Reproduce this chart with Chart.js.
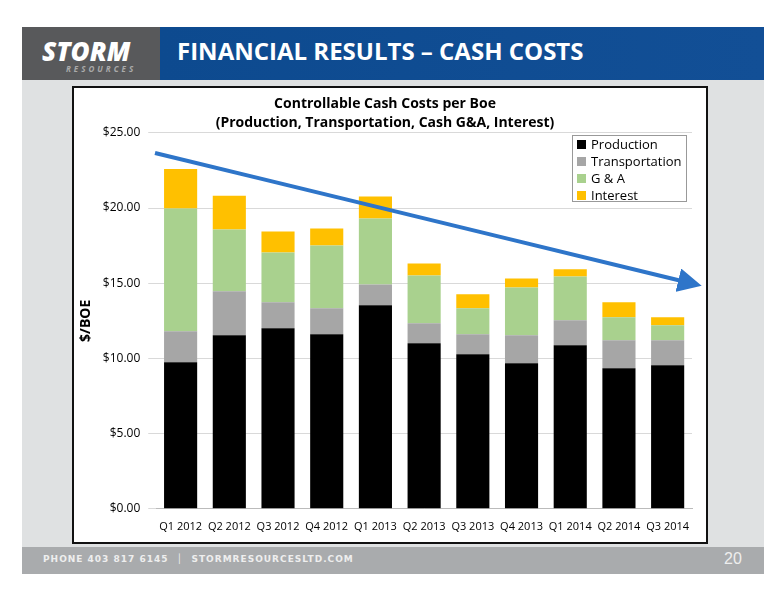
<!DOCTYPE html><html><head><meta charset="utf-8">
<script src="https://cdn.jsdelivr.net/npm/chart.js@4"></script>
<style>
body{margin:0;width:776px;height:600px;background:#fff;position:relative;font-family:"Open Sans",sans-serif;overflow:hidden}
#page{position:absolute;left:22px;top:27px;width:742px;height:547px;background:#dfe1e2}
#hl{position:absolute;left:22px;top:27px;width:140px;height:53px;background:#58595b}
#hr{position:absolute;left:160px;top:27px;width:604px;height:53px;background:linear-gradient(90deg,#0d4a8f,#124f96)}
#logo{position:absolute;left:42px;top:33px;color:#fff;font:italic 900 26px "Open Sans";letter-spacing:0px}
#logo2{position:absolute;left:66px;top:63px;color:#aaa;font:italic bold 8px "Open Sans";letter-spacing:3px}
#ttl{position:absolute;left:177px;top:34px;color:#fff;font:bold 24px "Open Sans"}
#ft{position:absolute;left:22px;top:547px;width:742px;height:27px;background:#a9abad}
#ftt{position:absolute;left:43px;top:554px;color:#eee;font:bold 9px "DejaVu Sans";letter-spacing:1px}
#pg{position:absolute;left:724px;top:550px;color:#eee;font:16px "Liberation Sans"}
#box{position:absolute;left:72px;top:86px;width:632px;height:454px;background:#fff;border:2px solid #111}
#leg{position:absolute;left:572px;top:135px;width:115px;height:67px;border:1px solid #999;background:#fff;font:13px "Open Sans";line-height:17px;padding-left:4px;box-sizing:border-box}
#leg span{display:inline-block;width:9px;height:9px;margin-right:5px}
svg{position:absolute;left:0;top:0}
</style></head><body>
<div id="page"></div><div id="hl"></div><div id="hr"></div>
<div id="logo">STORM</div><div id="logo2">RESOURCES</div>
<div id="ttl">FINANCIAL RESULTS – CASH COSTS</div>
<div id="ft"></div><div id="ftt">PHONE 403 817 6145 &nbsp;│&nbsp; STORMRESOURCESLTD.COM</div><div id="pg">20</div>
<div id="box"><canvas id="c" width="632" height="454"></canvas></div>
<div id="leg"><div><span style="background:#000"></span>Production</div><div><span style="background:#a6a6a6"></span>Transportation</div><div><span style="background:#a9d18e"></span>G &amp; A</div><div><span style="background:#ffc000"></span>Interest</div></div>
<svg width="776" height="600"><defs><marker id="ah" markerWidth="6" markerHeight="6" refX="3" refY="3" orient="auto"><path d="M0,0 L6,3 L0,6 z" fill="#2e75c9"/></marker></defs>
<line x1="155" y1="153" x2="690" y2="283" stroke="#2e75c9" stroke-width="4" marker-end="url(#ah)"/></svg>
<script>
const categories=["Q1 2012","Q2 2012","Q3 2012","Q4 2012","Q1 2013","Q2 2013","Q3 2013","Q4 2013","Q1 2014","Q2 2014","Q3 2014"];
const production=[9.75,11.54,12.0,11.6,13.53,11.0,10.28,9.68,10.88,9.35,9.55];
const transportation=[2.05,2.92,1.73,1.73,1.39,1.33,1.32,1.86,1.65,1.85,1.65];
const gAndA=[8.16,4.11,3.31,4.17,4.38,3.19,1.73,3.18,2.92,1.53,1.0];
const interest=[2.64,2.25,1.39,1.13,1.46,0.79,0.93,0.6,0.47,1.0,0.53];
const yTicks=[0,5,10,15,20,25];
new Chart(document.getElementById('c'),{type:'bar',
data:{labels:categories,datasets:[
{label:'Production',data:production,backgroundColor:'#000'},
{label:'Transportation',data:transportation,backgroundColor:'#a6a6a6'},
{label:'G & A',data:gAndA,backgroundColor:'#a9d18e'},
{label:'Interest',data:interest,backgroundColor:'#ffc000'}]},
options:{responsive:false,animation:false,layout:{padding:{left:4,right:14,top:3,bottom:6}},
datasets:{bar:{categoryPercentage:1,barPercentage:0.68}},
plugins:{legend:{display:false},tooltip:{enabled:false},
title:{display:true,text:['Controllable Cash Costs per Boe','(Production, Transportation, Cash G&A, Interest)'],color:'#000',font:{family:'Open Sans',size:14,weight:'bold',lineHeight:1.35},padding:{top:4,bottom:0}}},
scales:{x:{stacked:true,grid:{display:false},border:{color:'#bbb'},ticks:{color:'#000',font:{family:'Open Sans',size:11},maxRotation:0}},
y:{stacked:true,min:0,max:25,afterBuildTicks:a=>{a.ticks=yTicks.map(v=>({value:v}))},grid:{color:'#d9d9d9'},border:{display:false},
ticks:{color:'#000',font:{family:'Open Sans',size:12},padding:8,callback:v=>'$'+v.toFixed(2)},
title:{display:true,text:'$/BOE',color:'#000',font:{family:'Open Sans',size:14,weight:'bold'},padding:0}}}}});
</script></body></html>
